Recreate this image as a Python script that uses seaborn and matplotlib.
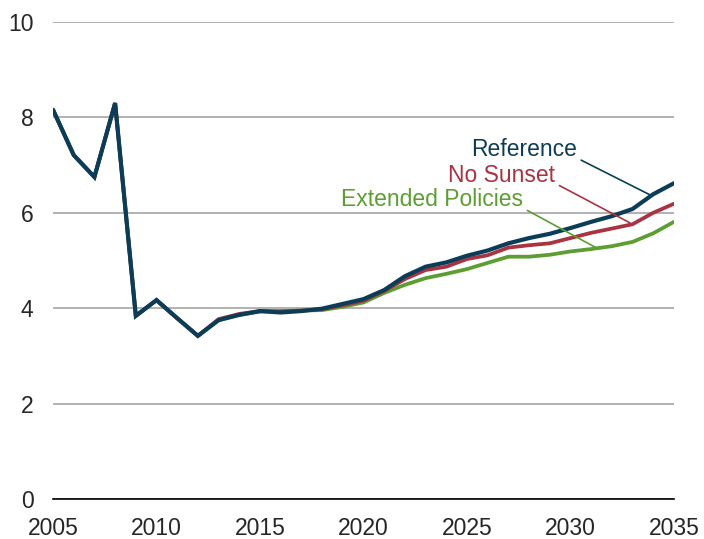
import pandas as pd
import matplotlib
matplotlib.use("Agg")
import matplotlib.pyplot as plt
import seaborn as sns

# Data
years = list(range(2005, 2036))
history = [8.16, 7.21, 6.75, 8.30, 3.84, 4.17, 3.79, 3.42]
reference = history + [3.75, 3.86, 3.94, 3.91, 3.94, 3.99, 4.09, 4.19, 4.38, 4.67,
                       4.87, 4.96, 5.10, 5.21, 5.36, 5.47, 5.56, 5.68, 5.81, 5.93,
                       6.08, 6.39, 6.62]
no_sunset = history + [3.77, 3.88, 3.94, 3.93, 3.95, 3.98, 4.06, 4.16, 4.36, 4.61,
                       4.80, 4.87, 5.03, 5.11, 5.27, 5.32, 5.36, 5.47, 5.58, 5.67,
                       5.76, 6.00, 6.19]
extended = history + [3.75, 3.86, 3.93, 3.94, 3.95, 3.96, 4.03, 4.12, 4.32, 4.49,
                      4.63, 4.72, 4.82, 4.95, 5.08, 5.08, 5.12, 5.19, 5.24, 5.30,
                      5.39, 5.57, 5.81]
series_names = ["Extended Policies", "No Sunset", "Reference"]
colors = {"Reference": "#0C3D58", "No Sunset": "#A93340", "Extended Policies": "#5C9E31"}
widths = {"Reference": 3.0, "No Sunset": 2.7, "Extended Policies": 2.7}

df = pd.DataFrame({"year": years * 3,
                   "value": extended + no_sunset + reference,
                   "scenario": [n for n in series_names for _ in years]})

sns.set_style("white")
plt.rcParams["font.family"] = ["Liberation Sans", "DejaVu Sans"]

fig = plt.figure(figsize=(7.04, 5.39), dpi=100)
ax = fig.add_axes([0.0753, 0.0742, 0.882, 0.885])

for name in series_names:
    sns.lineplot(data=df[df["scenario"] == name], x="year", y="value",
                 color=colors[name], lw=widths[name], ax=ax, legend=False,
                 solid_joinstyle="miter", zorder=3)

ax.set_xlim(2005, 2035)
ax.set_ylim(0, 10)
ax.set_xticks(range(2005, 2036, 5))
ax.set_yticks(range(0, 11, 2))
ax.yaxis.grid(True, color="#ABABAB", lw=1.3)
ax.set_axisbelow(True)
for s in ["left", "right", "top"]:
    ax.spines[s].set_visible(False)
ax.spines["bottom"].set_color("black")
ax.spines["bottom"].set_linewidth(1.2)
ax.spines["bottom"].set_zorder(4)
ax.tick_params(axis="x", direction="out", length=6, width=1.2, color="black",
               labelsize=16.5, pad=7)
ax.tick_params(axis="y", length=0, labelsize=16.5, pad=14)
ax.set_xlabel("")
ax.set_ylabel("")

# Inline series labels with leader lines
labels = [("Reference", (2033.87, 6.37), (2030.3, 7.32)),
          ("No Sunset", (2032.87, 5.79), (2029.25, 6.79)),
          ("Extended Policies", (2031.23, 5.27), (2027.7, 6.27))]
for name, end, pos in labels:
    ax.annotate(name, xy=end, xytext=pos, ha="right", va="center",
                fontsize=16.5, color=colors[name],
                arrowprops=dict(arrowstyle="-", color=colors[name], lw=1.2,
                                relpos=(1.0, 0.15), shrinkA=1, shrinkB=0))

fig.savefig("out.png", dpi=100)
